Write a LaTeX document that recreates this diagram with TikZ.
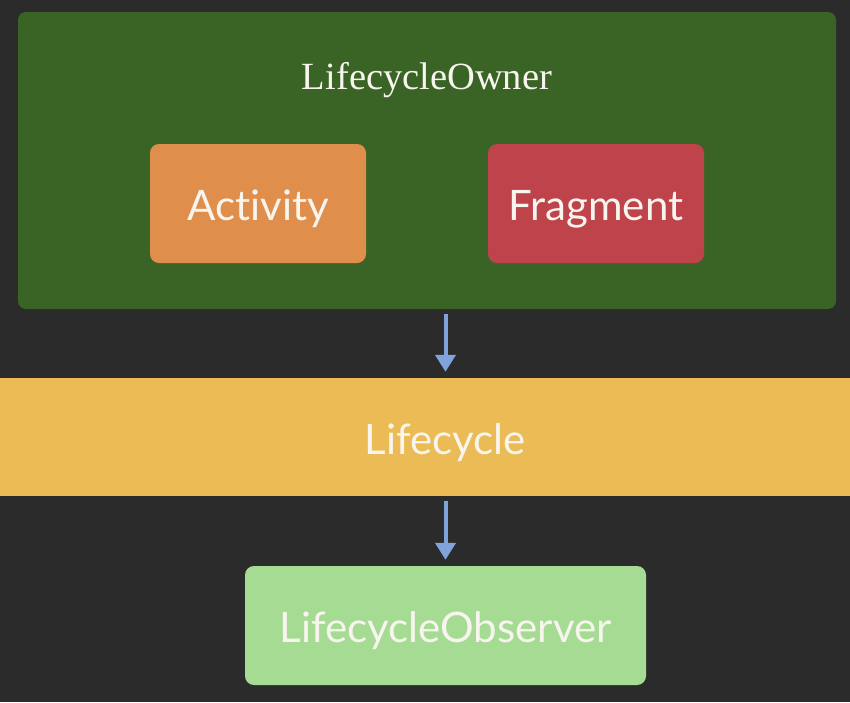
\documentclass[tikz,border=0pt]{standalone}
\usepackage{fontspec}
\setmainfont{Liberation Serif}
\setsansfont[Ligatures={NoCommon,NoRare}]{Lato}
\usetikzlibrary{positioning,arrows.meta}
\definecolor{bgdark}{HTML}{2B2B2B}
\definecolor{ownergreen}{HTML}{3A6425}
\definecolor{actorange}{HTML}{E08E4B}
\definecolor{fragred}{HTML}{BF434A}
\definecolor{cycleyellow}{HTML}{EBBB55}
\definecolor{obsgreen}{HTML}{A5DB93}
\definecolor{flowblue}{HTML}{7FA3DA}
\definecolor{textwhite}{HTML}{F7F5EE}

\begin{document}
\begin{tikzpicture}[x=1pt,y=-1pt,
    box/.style={rounded corners=9pt, minimum height=119pt, inner sep=0pt,
      text height=34pt, text depth=0pt,
      text=textwhite, font=\sffamily\fontsize{42}{44}\selectfont},
    flow/.style={draw=flowblue, line width=4pt,
      -{Triangle[width=20pt,length=17pt]}, shorten <=5pt, shorten >=6pt}]
  \fill[bgdark] (0,0) rectangle (850,702);
  \node[fill=ownergreen, rounded corners=8pt, minimum width=818pt,
    minimum height=297pt] (owner) at (427,160.5) {};
  \node[text=textwhite, font=\fontsize{38.5}{40}\selectfont] (title) at (427,80) {LifecycleOwner};
  \node[box, fill=actorange, minimum width=216pt] (activity) at (258,203.5) {Activity};
  \node[box, fill=fragred, minimum width=216pt] (fragment) at (596,203.5) {Fragment};
  \node[box, fill=cycleyellow, rounded corners=0pt, minimum width=850pt,
    minimum height=118pt] (lifecycle) at (425,437) {\hspace*{40pt}Lifecycle};
  \node[box, fill=obsgreen, minimum width=401pt] (observer) at (445.5,625.5) {LifecycleObserver};
  \draw[flow] (owner.south -| observer) -- (lifecycle.north -| observer);
  \draw[flow] (lifecycle.south -| observer) -- (observer.north);
\end{tikzpicture}
\end{document}
